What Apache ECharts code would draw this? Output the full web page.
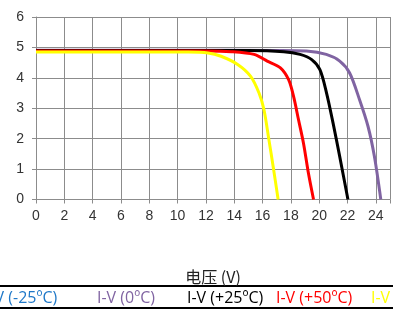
<!DOCTYPE html>
<html>
<head>
<meta charset="utf-8">
<script src="https://cdn.jsdelivr.net/npm/echarts@6/dist/echarts.min.js"></script>
<style>
  html, body { margin: 0; padding: 0; background: #fff; }
  #main { width: 393px; height: 309px; }
</style>
</head>
<body>
<div id="main"></div>
<script>
var names = ['I-V (-25ºC)', 'I-V (0ºC)', 'I-V (+25ºC)', 'I-V (+50ºC)', 'I-V (+75ºC)'];
var colors = ['#1f78c8', '#8064a2', '#000000', '#ff0000', '#ffff00'];

// 电压 / 电流 读自原图
var voltM25 = [];
var currM25 = [];
var volt0 = [0, 10, 17, 19.1, 20.5, 21.45, 22.15, 22.85, 23.45, 23.9, 24.35];
var curr0 = [4.91, 4.91, 4.9, 4.88, 4.77, 4.55, 4.16, 3.28, 2.4, 1.41, 0];
var volt25 = [0, 10, 15, 17.5, 18.65, 19.47, 20.05, 20.52, 20.98, 21.45, 22.03];
var curr25 = [4.9, 4.9, 4.9, 4.86, 4.77, 4.6, 4.27, 3.5, 2.51, 1.41, 0];
var volt50 = [0, 10, 12, 13.8, 15.4, 16.33, 17.26, 17.84, 18.19, 18.54, 18.89, 19.24, 19.6];
var curr50 = [4.88, 4.88, 4.88, 4.86, 4.77, 4.55, 4.33, 3.94, 3.39, 2.62, 1.85, 0.86, 0];
var volt75 = [0, 10.75, 12.15, 13.07, 14.24, 15.16, 15.75, 16.1, 16.45, 16.75, 17.1];
var curr75 = [4.85, 4.85, 4.82, 4.71, 4.44, 4.05, 3.5, 2.95, 1.96, 1.08, 0];

var xTicks = { min: 0, max: 25, step: 2 };
var yTicks = { min: 0, max: 6, step: 1 };

function pairs(v, c) {
    var out = [];
    for (var i = 0; i < v.length; i++) {
        out.push([v[i], c[i]]);
    }
    return out;
}

var allV = [voltM25, volt0, volt25, volt50, volt75];
var allI = [currM25, curr0, curr25, curr50, curr75];

var myChart = echarts.init(document.getElementById('main'));

var series = [];
for (var i = 0; i < names.length; i++) {
    series.push({
        name: names[i],
        type: 'line',
        data: pairs(allV[i], allI[i]),
        showSymbol: false,
        symbol: 'none',
        smooth: 0.3,
        lineStyle: { color: colors[i], width: 3 },
        itemStyle: { color: colors[i] }
    });
}

// 图例位置（文字起点）
var legendLeft = [-20, 92, 182, 271, 366];
var legends = [];
for (var j = 0; j < names.length; j++) {
    legends.push({
        left: legendLeft[j],
        top: 290,
        padding: 0,
        itemWidth: 0,
        itemHeight: 0,
        icon: 'rect',
        data: [{ name: names[j], textStyle: { color: colors[j] } }],
        textStyle: { fontSize: 16, fontFamily: 'Open Sans' },
        selectedMode: false
    });
}

var gray = '#8c8c8c';

var option = {
    animation: false,
    backgroundColor: '#ffffff',
    legend: legends,
    grid: { left: 36, top: 17, width: 358, height: 182.5 },
    xAxis: {
        type: 'value',
        min: xTicks.min,
        max: xTicks.max,
        interval: xTicks.step,
        name: '电压 (V)',
        nameLocation: 'middle',
        nameGap: 69,
        nameTextStyle: { fontSize: 16, color: '#222', fontFamily: 'Noto Sans CJK SC' },
        axisLine: { show: true, lineStyle: { color: gray, width: 1 } },
        axisTick: { show: true, length: 4, lineStyle: { color: gray } },
        axisLabel: {
            fontSize: 14, color: '#333', margin: 10, fontFamily: 'Liberation Sans',
            formatter: function (v) { return v % 2 === 0 ? v : ''; }
        },
        splitLine: { show: true, lineStyle: { color: gray, width: 1 } }
    },
    yAxis: {
        type: 'value',
        min: yTicks.min,
        max: yTicks.max,
        interval: yTicks.step,
        axisLine: { show: true, lineStyle: { color: gray, width: 1 } },
        axisTick: { show: true, length: 4, lineStyle: { color: gray } },
        axisLabel: { fontSize: 14, color: '#333', margin: 12, fontFamily: 'Liberation Sans' },
        splitLine: { show: true, lineStyle: { color: gray, width: 1 } }
    },
    graphic: [{
        type: 'rect',
        shape: { x: -10, y: 286, width: 420, height: 22 },
        style: { fill: 'none', stroke: '#000', lineWidth: 2 },
        silent: true
    }],
    series: series
};

myChart.setOption(option);
</script>
</body>
</html>
